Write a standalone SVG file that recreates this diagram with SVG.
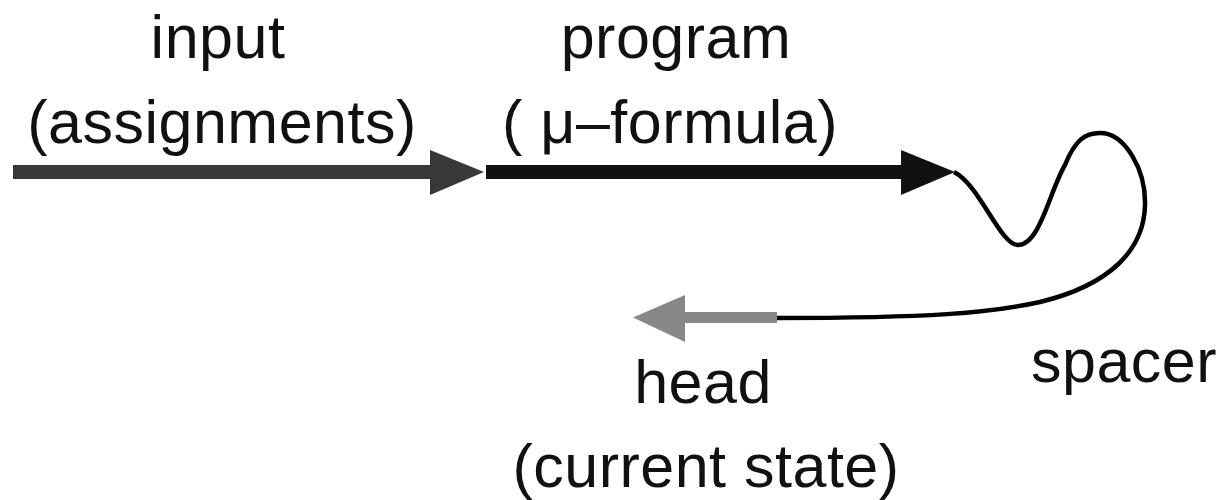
<svg xmlns="http://www.w3.org/2000/svg" width="1226" height="500" viewBox="0 0 1226 500">
  <style>
    .lbl { font-family: "Liberation Sans", Arial, sans-serif; font-size: 61px; fill: #111; letter-spacing: 0.5px; text-anchor: middle; }
  </style>
  <rect width="1226" height="500" fill="#ffffff"/>

  <g id="connectors">
    <!-- input arrow -->
    <line x1="13" y1="172" x2="436" y2="172" stroke="#383838" stroke-width="14"/>
    <polygon points="430,150 484,172 430,195" fill="#383838"/>
    <!-- program arrow -->
    <line x1="486" y1="172" x2="906" y2="172" stroke="#111" stroke-width="14"/>
    <polygon points="901,150 955,172 901,195" fill="#111"/>
    <!-- spacer loop -->
    <path d="M 954 172 C 980 185, 1000 245, 1018 245 C 1040 245, 1050 190, 1065 165 C 1075 140, 1085 133, 1100 133 C 1125 133, 1146 170, 1145 205 C 1144 250, 1110 285, 1040 302 C 990 313, 930 318, 776 318" fill="none" stroke="#000" stroke-width="4.5"/>
    <!-- head arrow -->
    <line x1="680" y1="317.5" x2="777" y2="317.5" stroke="#888" stroke-width="11"/>
    <polygon points="685,295 633,317.5 685,342" fill="#888"/>
  </g>

  <g id="input">
    <text class="lbl" x="218" y="58">input</text>
    <text class="lbl" x="222" y="143">(assignments)</text>
  </g>
  <g id="program">
    <text class="lbl" x="676" y="58">program</text>
    <text class="lbl" x="670" y="143">( μ–formula)</text>
  </g>
  <g id="head">
    <text class="lbl" x="703" y="403">head</text>
    <text class="lbl" x="706" y="487">(current state)</text>
  </g>
  <g id="spacer">
    <text class="lbl" x="1124" y="382">spacer</text>
  </g>
</svg>
